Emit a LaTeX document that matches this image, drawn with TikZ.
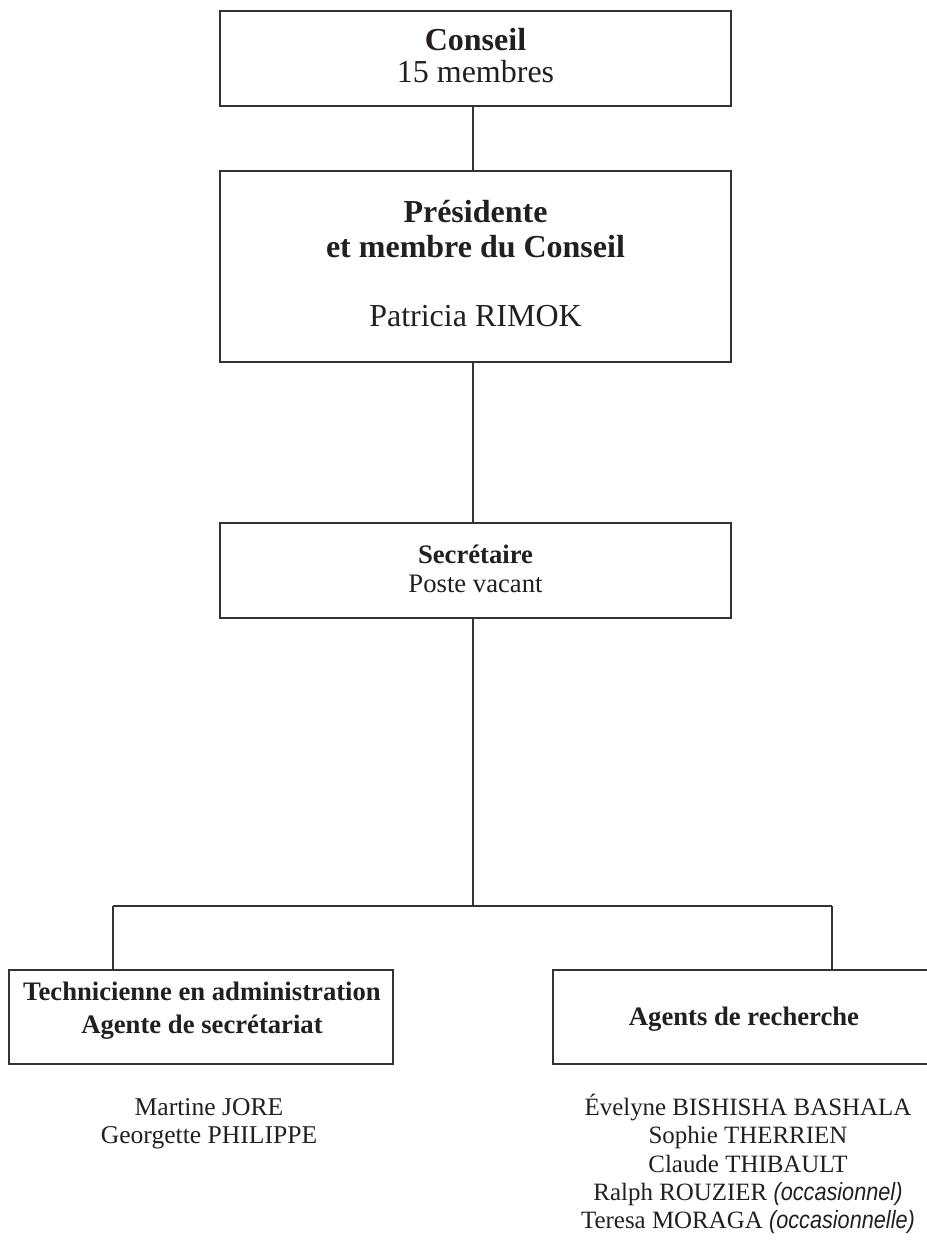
\documentclass[tikz,border=0pt]{standalone}
\usepackage{fontspec}
\setmainfont{Liberation Serif}
\newfontfamily\occfont[FakeStretch=0.87]{Liberation Sans}
\definecolor{ink}{HTML}{231F20}
\definecolor{linec}{HTML}{333333}
\begin{document}
\begin{tikzpicture}[x=0.75pt,y=-0.75pt,
  box/.style={draw=linec, line width=1.1pt, inner sep=0pt, rectangle},
  txt/.style={anchor=base, inner sep=0pt, text=ink},
  big/.style={font=\fontsize{24}{28}\selectfont},
  bigb/.style={font=\fontsize{24}{28}\selectfont\bfseries},
  mid/.style={font=\fontsize{20}{24}\selectfont},
  midb/.style={font=\fontsize{20}{24}\selectfont\bfseries},
  persname/.style={font=\fontsize{18.7}{22}\selectfont},
  persnameL/.style={font=\fontsize{19.2}{22}\selectfont},
  conn/.style={draw=linec, line width=1.1pt}]
\clip (0,0) rectangle (927,1247);
\fill[white] (0,0) rectangle (927,1247);
% boxes
\node[box, minimum width=383.25pt, minimum height=71.25pt] (conseil) at (475.5,58.5) {};
\node[box, minimum width=383.25pt, minimum height=143.25pt] (pres) at (475.5,266.5) {};
\node[box, minimum width=383.25pt, minimum height=71.25pt] (sec) at (475.5,570.5) {};
\node[box, minimum width=288pt, minimum height=70.5pt] (tech) at (201,1017) {};
\node[box, minimum width=286.5pt, minimum height=70.5pt] (agents) at (744,1017) {};
% texts
\node[txt, bigb] (t1) at (475.5,50) {Conseil};
\node[txt, big] (t2) at (475.5,82) {15 membres};
\node[txt, bigb] (t3) at (475.5,222) {Présidente};
\node[txt, bigb] (t4) at (475.5,257) {et membre du Conseil};
\node[txt, big] (t5) at (475.5,326) {Patricia RIMOK};
\node[txt, midb] (t6) at (475.5,563) {Secrétaire};
\node[txt, mid] (t7) at (475.5,592) {Poste vacant};
\node[txt, midb] (t8) at (202,1000) {Technicienne en administration};
\node[txt, midb] (t9) at (202,1033) {Agente de secrétariat};
\node[txt, midb] (t10) at (744,1025) {Agents de recherche};
\node[txt, persnameL] (n1) at (209,1115) {Martine JORE};
\node[txt, persnameL] (n2) at (209,1143) {Georgette PHILIPPE};
\node[txt, persname] (n3) at (748,1115) {Évelyne BISHISHA BASHALA};
\node[txt, persname] (n4) at (748,1143) {Sophie THERRIEN};
\node[txt, persname] (n5) at (748,1172) {Claude THIBAULT};
\node[txt, persname] (n6) at (748,1200) {Ralph ROUZIER {\occfont\itshape (occasionnel)}};
\node[txt, persname] (n7) at (748,1228) {Teresa MORAGA {\occfont\itshape (occasionnelle)}};
% connectors
\coordinate (spine) at (473,0);
\coordinate (bus) at (473,906);
\coordinate (lt) at (113,906);
\coordinate (rt) at (832,906);
\draw[conn] (conseil.south -| spine) -- (pres.north -| spine);
\draw[conn] (pres.south -| spine) -- (sec.north -| spine);
\draw[conn] (sec.south -| spine) -- (bus);
\draw[conn] (lt) -- (rt);
\draw[conn] (lt) -- (lt |- tech.north);
\draw[conn] (rt) -- (rt |- agents.north);
\end{tikzpicture}
\end{document}
